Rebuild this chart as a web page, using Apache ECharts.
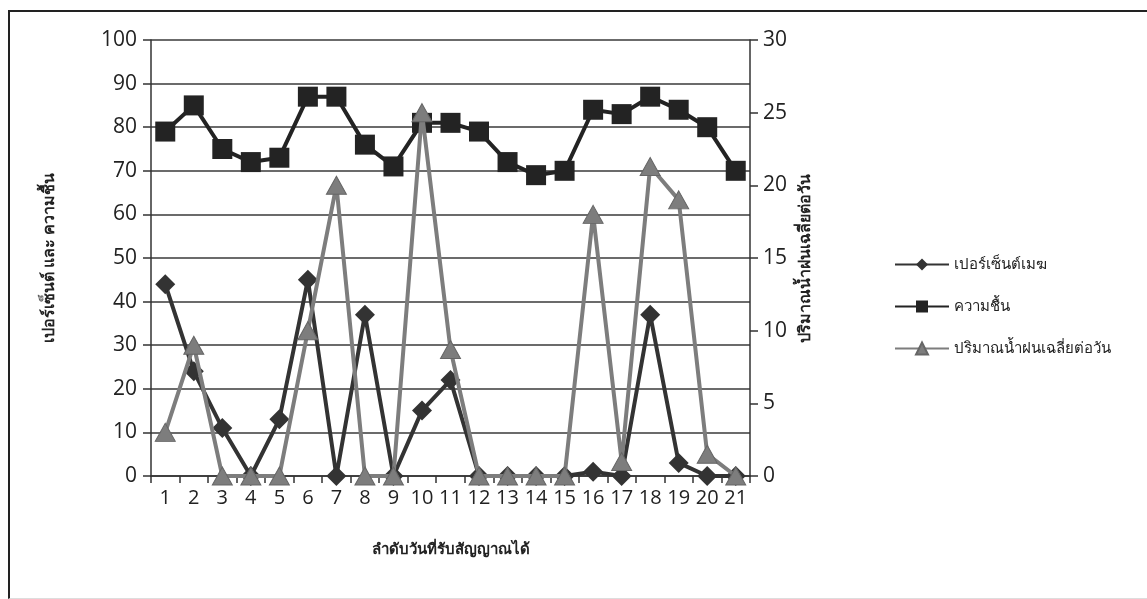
<!DOCTYPE html>
<html>
<head>
<meta charset="utf-8">
<script src="https://cdn.jsdelivr.net/npm/echarts@6/dist/echarts.min.js"></script>
<style>
  html, body { margin: 0; padding: 0; background: #fff; }
  #frame { position: absolute; left: 8px; top: 10px; width: 1200px; height: 586px;
    border-top: 2px solid #222; border-left: 2px solid #222; border-bottom: 1px solid #ddd; }
  #chart { position: absolute; left: 0; top: 0; width: 1147px; height: 599px; }
</style>
</head>
<body>
<div id="frame"></div>
<div id="chart"></div>
<script>
// ลำดับวัน
const days = ['1','2','3','4','5','6','7','8','9','10','11','12','13','14','15','16','17','18','19','20','21']
// เปอร์เซ็นต์เมฆ (แกนซ้าย)
const cloud = [44, 24, 11, 0, 13, 45, 0, 37, 0, 15, 22, 0, 0, 0, 0, 1, 0, 37, 3, 0, 0]
// ความชื้น (แกนซ้าย)
const humidity = [79, 85, 75, 72, 73, 87, 87, 76, 71, 81, 81, 79, 72, 69, 70, 84, 83, 87, 84, 80, 70]
// ปริมาณน้ำฝนเฉลี่ยต่อวัน (แกนขวา)
const rain = [3, 9, 0, 0, 0, 10, 20, 0, 0, 25, 8.7, 0, 0, 0, 0, 18, 1, 21.3, 19, 1.5, 0]

const seriesNames = ['เปอร์เซ็นต์เมฆ', 'ความชื้น', 'ปริมาณน้ำฝนเฉลี่ยต่อวัน']
const font = '"Open Sans", "Noto Sans", sans-serif'
const thaiFont = '"Noto Sans", "DejaVu Sans", sans-serif'

const myChart = echarts.init(document.getElementById('chart'))
myChart.setOption({
  animation: false,
  backgroundColor: 'transparent',
  grid: { left: 151, right: 397, top: 40, bottom: 123 },
  legend: {
    orient: 'vertical',
    left: 889,
    top: 252,
    itemGap: 27,
    itemWidth: 54,
    itemHeight: 15,
    data: seriesNames,
    textStyle: { fontSize: 15, color: '#222', fontFamily: thaiFont }
  },
  xAxis: {
    type: 'category',
    data: days,
    boundaryGap: true,
    axisLine: { lineStyle: { color: '#333', width: 1.5 } },
    axisTick: { show: true, length: 7, lineStyle: { color: '#333', width: 1.5 } },
    axisLabel: { interval: 0, fontSize: 20, color: '#222', margin: 12, fontFamily: font },
    name: 'ลำดับวันที่รับสัญญาณได้',
    nameLocation: 'middle',
    nameGap: 66,
    nameTextStyle: { fontSize: 15, fontWeight: 'bold', color: '#222', fontFamily: thaiFont }
  },
  yAxis: [
    {
      type: 'value',
      min: 0, max: 100, interval: 10,
      axisLine: { show: true, lineStyle: { color: '#333', width: 1.5 } },
      axisTick: { show: true, length: 8, lineStyle: { color: '#333', width: 1.5 } },
      axisLabel: { fontSize: 21, color: '#222', margin: 14, fontFamily: font },
      splitLine: { lineStyle: { color: '#3a3a3a', width: 1.5 } },
      name: 'เปอร์เซ็นต์ และ ความชื้น',
      nameLocation: 'middle',
      nameRotate: 90,
      nameGap: 94,
      nameTextStyle: { fontSize: 16, fontWeight: 'bold', color: '#222', fontFamily: thaiFont }
    },
    {
      type: 'value',
      min: 0, max: 30, interval: 5,
      position: 'right',
      axisLine: { show: true, lineStyle: { color: '#333', width: 1.5 } },
      axisTick: { show: true, length: 8, lineStyle: { color: '#333', width: 1.5 } },
      axisLabel: { fontSize: 21, color: '#222', margin: 13, fontFamily: font },
      splitLine: { show: false },
      name: 'ปริมาณน้ำฝนเฉลี่ยต่อวัน',
      nameLocation: 'middle',
      nameRotate: 90,
      nameGap: 44,
      nameTextStyle: { fontSize: 16, fontWeight: 'bold', color: '#222', fontFamily: thaiFont }
    }
  ],
  series: [
    {
      name: seriesNames[0],
      type: 'line',
      yAxisIndex: 0,
      data: cloud,
      symbol: 'diamond',
      symbolSize: 20,
      z: 3,
      itemStyle: { color: '#333' },
      lineStyle: { color: '#333', width: 4 }
    },
    {
      name: seriesNames[1],
      type: 'line',
      yAxisIndex: 0,
      data: humidity,
      symbol: 'rect',
      symbolSize: 20,
      z: 2,
      itemStyle: { color: '#232323' },
      lineStyle: { color: '#232323', width: 4 }
    },
    {
      name: seriesNames[2],
      type: 'line',
      yAxisIndex: 1,
      data: rain,
      symbol: 'triangle',
      symbolSize: [20, 18],
      z: 4,
      itemStyle: { color: '#7d7d7d', borderColor: '#666', borderWidth: 1 },
      lineStyle: { color: '#7d7d7d', width: 4 }
    }
  ]
})
window.onresize = function () {
  myChart.resize()
}
</script>
</body>
</html>
